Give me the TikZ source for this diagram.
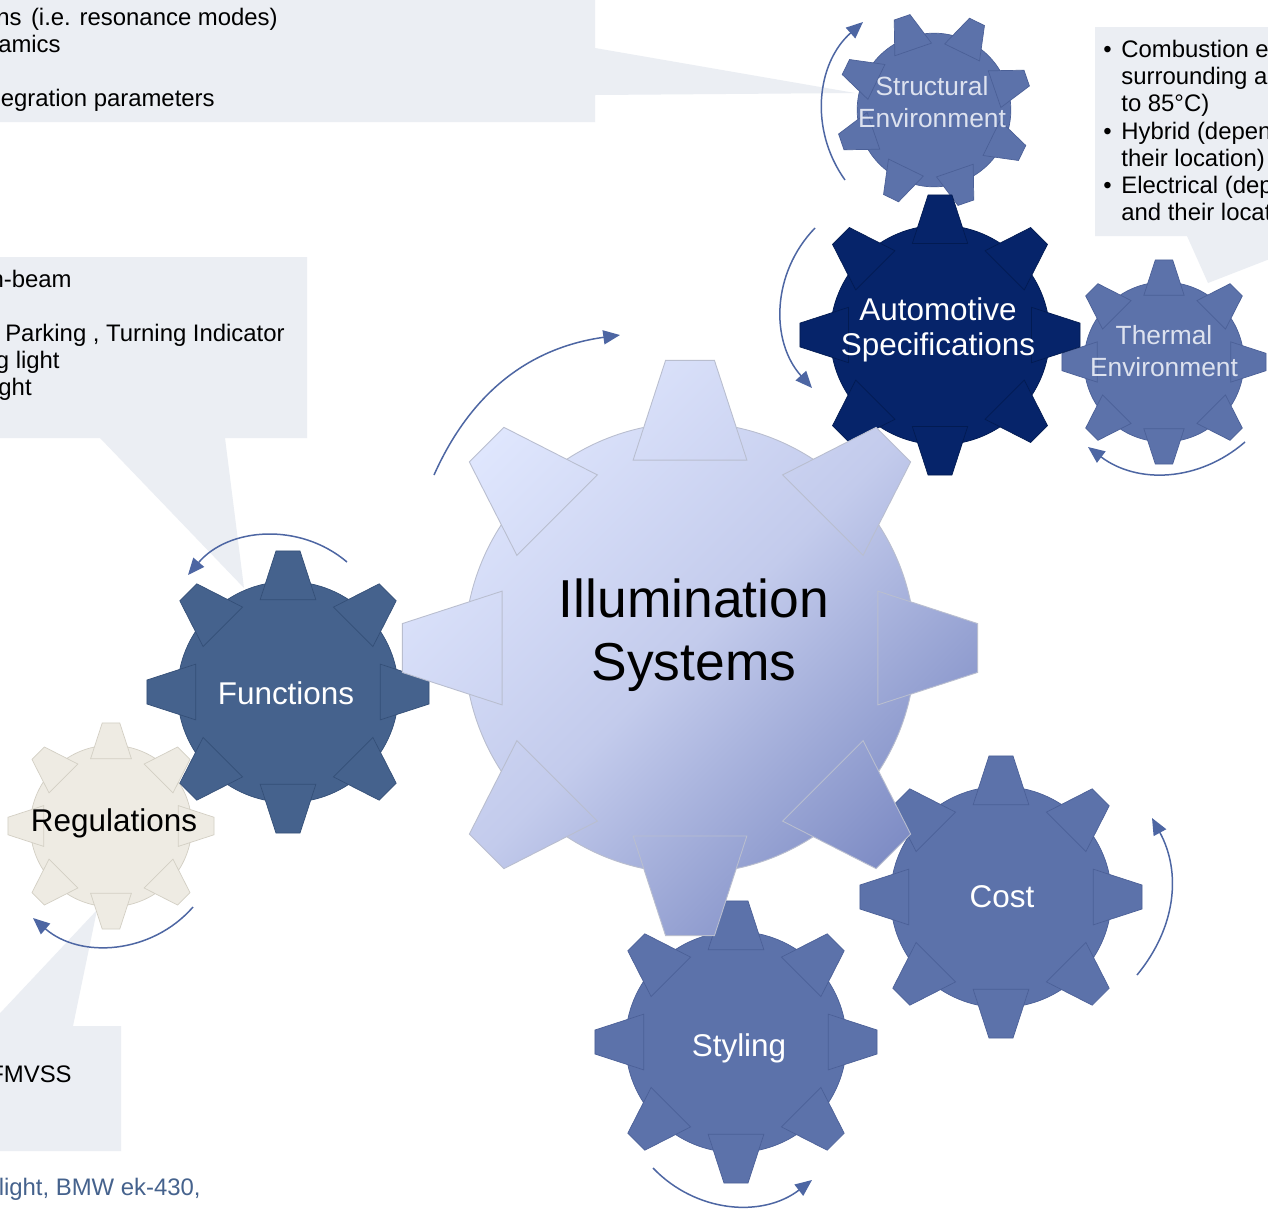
\documentclass[tikz,border=0pt]{standalone}
\usepackage{fontspec}
\setmainfont{Liberation Sans}
\usetikzlibrary{arrows.meta}

\definecolor{bubblegray}{HTML}{EBEEF3}
\definecolor{specnavy}{HTML}{06246A}
\definecolor{specline}{HTML}{021B52}
\definecolor{funcblue}{HTML}{45628D}
\definecolor{funcline}{HTML}{344F77}
\definecolor{gearblue}{HTML}{5C72AA}
\definecolor{gearline}{HTML}{4B6097}
\definecolor{regbeige}{HTML}{EEEBE3}
\definecolor{regline}{HTML}{D3CFC4}
\definecolor{illumlight}{HTML}{DFE6FD}
\definecolor{illummid}{HTML}{C3CBEC}
\definecolor{illumdark}{HTML}{7F8DC5}
\definecolor{illumline}{HTML}{B9BECF}
\definecolor{spinblue}{HTML}{4D66A3}
\definecolor{envtext}{HTML}{DDE2EF}

\begin{document}
\begin{tikzpicture}[x=0.02cm, y=-0.02cm,
    bubble/.style={fill=bubblegray},
    note/.style={inner sep=0pt, font=\fontsize{13.6}{15.5}\selectfont},
    gear label/.style={align=center, inner sep=0pt, text=white, font=\fontsize{17.9}{20.2}\selectfont},
    env label/.style={gear label, text=envtext, font=\fontsize{15}{17.9}\selectfont},
    spin/.style={draw=spinblue, line width=0.85pt, -{Triangle[length=9.5pt,width=8pt]}},
]

\path[use as bounding box, fill=white] (0,0) rectangle (1268,1211);
\clip (0,0) rectangle (1268,1211);

\tikzset{%
    gear teeth/.style={
        insert path={
            \foreach \k [evaluate=\k as \tang using #1+45*\k] in {0,...,7}{
                ({\tang-16.84}:0.683) -- ({\tang-4.86}:1.004) -- ({\tang+4.86}:1.004) -- ({\tang+16.84}:0.683) -- cycle }
        }
    },
    gear rim/.style={
        insert path={
            \foreach \k [evaluate=\k as \rang using #1+45*\k+11.85] in {0,...,7}{
                (\rang:0.784) arc[start angle=\rang, delta angle=21.3, radius=0.784] }
        }
    }
}

% speech bubbles
\fill[bubble] (-10,-10) -- (595,-10) -- (595,48) -- (855,93) -- (595,95) -- (595,122) -- (-10,122) -- cycle;
\fill[bubble] (1095,27) -- (1280,27) -- (1280,255) -- (1208,283) -- (1187,236) -- (1095,236) -- cycle;
\fill[bubble] (-10,257) -- (307,257) -- (307,438) -- (225,438) -- (244,588) -- (100,438) -- (-10,438) -- cycle;
\fill[bubble] (-12,1026) -- (97,910) -- (73,1026) -- (121,1026) -- (121,1151) -- (-12,1151) -- cycle;

\node[note, anchor=base east] (struct-1) at (278,25) {ns\hspace{0.4em}(i.e. resonance modes)};
\node[note, anchor=base east] (struct-2) at (61,52) {amics};
\node[note, anchor=base east] (struct-3) at (215,106) {egration parameters};

\foreach \yy/\txt [count=\i] in {57/Combustion e, 84/surrounding a, 111/to 85°C), 139/Hybrid (depen,
        166/their location), 193/Electrical (dep, 220/and their locat}
    \node[note, anchor=base west] (therm-\i) at (1121,\yy) {\txt};
\foreach \yy [count=\i] in {57,139,193}
    \node[note, anchor=base west] (dot-\i) at (1103,\yy) {\textbullet};

\node[note, anchor=base east] (func-1) at (72,287) {n-beam};
\node[note, anchor=base east] (func-2) at (285,341) {Parking , Turning Indicator};
\node[note, anchor=base east] (func-3) at (60,368) {g light};
\node[note, anchor=base east] (func-4) at (32,395) {ght};

\node[note, anchor=base east] (reg-1) at (72,1082) {FMVSS};
\node[note, anchor=base east, text=funcblue] (source) at (201,1195) {light, BMW ek-430,};

% small gears
\foreach \cx/\cy/\rad/\turn/\body/\rim in {
        111/826/103/0/regbeige/regline,
        288/692/141/0/funcblue/funcline,
        1001/897/141/0/gearblue/gearline,
        736/1042/141/0/gearblue/gearline,
        1164/362/102/0/gearblue/gearline,
        934/110/98/26/gearblue/gearline,
        940/335/140/0/specnavy/specline}{
    \begin{scope}[shift={(\cx,\cy)}, scale=\rad]
        \fill[fill=\body] (0,0) circle[radius=0.784] [gear teeth=\turn];
        \draw[draw=\rim, line width=0.4pt] [gear rim=\turn] [gear teeth=\turn];
    \end{scope}
}

% big gear in the middle
\begin{scope}[shift={(690,648)}, scale=287.5]
    \shade[top color=illumlight, bottom color=illumdark, middle color=illummid, shading angle=45]
        (0,0) circle[radius=0.784] [gear teeth=0];
    \draw[draw=illumline, line width=0.5pt] [gear rim=0] [gear teeth=0];
\end{scope}

\node[gear label, text=black, font=\fontsize{30.4}{35.7}\selectfont] (illum) at (694,635) {Illumination\\Systems};
\node[gear label] (spec) at (938,330) {Automotive\\Specifications};
\node[env label] (struct) at (932,102) {Structural\\Environment};
\node[env label] (thermal) at (1164,351) {Thermal\\Environment};
\node[gear label] (func) at (286,693) {Functions};
\node[gear label, text=black] (regul) at (114,823) {Regulations};
\node[gear label] (cost) at (1002,897) {Cost};
\node[gear label] (styling) at (739,1048) {Styling};

% turning arrows
\coordinate (illum-from) at (434,475);   \coordinate (illum-to) at (620,335);
\coordinate (spec-from) at (815,228);    \coordinate (spec-to) at (812,388);
\coordinate (struct-from) at (845,180);  \coordinate (struct-to) at (863,22);
\coordinate (thermal-from) at (1245,442);\coordinate (thermal-to) at (1088,447);
\coordinate (func-from) at (347,562);    \coordinate (func-to) at (188,575);
\coordinate (regul-from) at (193,907);   \coordinate (regul-to) at (33,918);
\coordinate (cost-from) at (1137,975);   \coordinate (cost-to) at (1152,818);
\coordinate (styling-from) at (653,1168);\coordinate (styling-to) at (812,1180);

\draw[spin] (illum-from) to[bend left=29] (illum-to);
\draw[spin] (spec-from) to[bend right=43] (spec-to);
\draw[spin] (struct-from) to[bend left=42] (struct-to);
\draw[spin] (thermal-from) to[bend left=39] (thermal-to);
\draw[spin] (func-from) to[bend right=45] (func-to);
\draw[spin] (regul-from) to[bend left=45] (regul-to);
\draw[spin] (cost-from) to[bend right=34] (cost-to);
\draw[spin] (styling-from) to[bend right=42] (styling-to);

\end{tikzpicture}
\end{document}
